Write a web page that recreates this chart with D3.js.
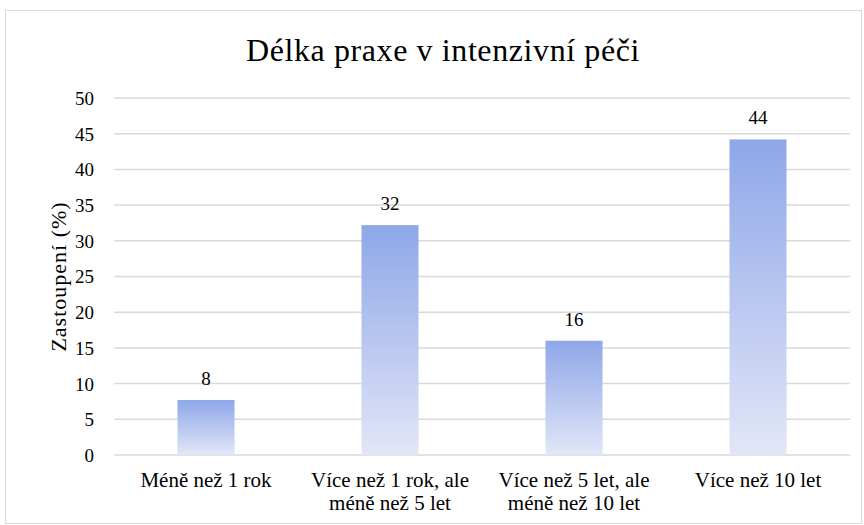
<!DOCTYPE html>
<html><head><meta charset="utf-8">
<script src="https://cdn.jsdelivr.net/npm/d3@7"></script>
<style>body{margin:0;background:#fff}svg{display:block}svg text{font-family:"Liberation Serif","Times New Roman",serif !important;fill:#000}</style>
</head><body><svg id="c" width="864" height="525"></svg>
<script>
const categories = [["Méně než 1 rok"], ["Více než 1 rok, ale", "méně než 5 let"], ["Více než 5 let, ale", "méně než 10 let"], ["Více než 10 let"]];
const values = [7.7, 32.2, 16.0, 44.2];
const yTicks = [0, 5, 10, 15, 20, 25, 30, 35, 40, 45, 50];
const title = "Délka praxe v intenzivní péči";
const yTitle = "Zastoupení (%)";

const FONT = "Liberation Serif";
const svg = d3.select("#c");
const m = {l:114, r:14, t:98, b:70};
const W = 864, H = 525;

svg.append("rect").attr("x",5.5).attr("y",10.5).attr("width",856).attr("height",513)
  .attr("fill","#fff").attr("stroke","#d9d9d9").attr("stroke-width",1);

const defs = svg.append("defs");
const g = defs.append("linearGradient").attr("id","bg").attr("x1",0).attr("y1",0).attr("x2",0).attr("y2",1);
g.append("stop").attr("offset","0%").attr("stop-color","#8ea7e9");
g.append("stop").attr("offset","100%").attr("stop-color","#e2e6f7");

const x = d3.scaleBand().domain(d3.range(categories.length)).range([m.l, W - m.r]).paddingInner(0.69).paddingOuter(0.345);
const y = d3.scaleLinear().domain([0, 50]).range([H - m.b, m.t]);

// gridlines
svg.append("g").selectAll("line").data(yTicks).join("line")
  .attr("x1", m.l).attr("x2", W - m.r)
  .attr("y1", d => y(d)).attr("y2", d => y(d))
  .attr("stroke", "#d9d9d9").attr("stroke-width", 1.5);

// y axis
const ya = svg.append("g").attr("transform", `translate(${m.l},0)`)
  .call(d3.axisLeft(y).tickValues(yTicks).tickSize(0).tickPadding(20));
ya.attr("font-family", FONT);
ya.select(".domain").remove();
ya.selectAll("text").attr("font-size", 19).attr("font-family", FONT).attr("dy", "0.34em");

// bars
svg.append("g").selectAll("rect").data(values).join("rect")
  .attr("x", (d,i) => x(i)).attr("width", x.bandwidth())
  .attr("y", d => y(d)).attr("height", d => y(0) - y(d))
  .attr("fill", "url(#bg)");

// value labels
svg.append("g").selectAll("text").data(values).join("text")
  .attr("x", (d,i) => x(i) + x.bandwidth()/2).attr("y", d => y(d) - 15)
  .attr("text-anchor", "middle").attr("font-size", 19).attr("font-family", FONT)
  .text(d => d3.format(".0f")(d));

// x labels
const xl = svg.append("g").selectAll("text").data(categories).join("text")
  .attr("x", (d,i) => x(i) + x.bandwidth()/2).attr("y", H - m.b + 32)
  .attr("text-anchor", "middle").attr("font-size", 21).attr("font-family", FONT);
xl.selectAll("tspan").data(d => d).join("tspan")
  .attr("x", function(){ return this.parentNode.getAttribute("x"); })
  .attr("dy", (d,i) => i === 0 ? 0 : 23).text(d => d);

// title
svg.append("text").attr("x", 443).attr("y", 61).attr("text-anchor", "middle")
  .attr("font-size", 32).attr("letter-spacing", 0.6).attr("font-family", FONT).text(title);

// y title
svg.append("text").attr("transform", `translate(66,${(y(0)+y(50))/2}) rotate(-90)`)
  .attr("text-anchor", "middle").attr("font-size", 22).attr("letter-spacing", 1)
  .attr("font-family", FONT).text(yTitle);
</script></body></html>
